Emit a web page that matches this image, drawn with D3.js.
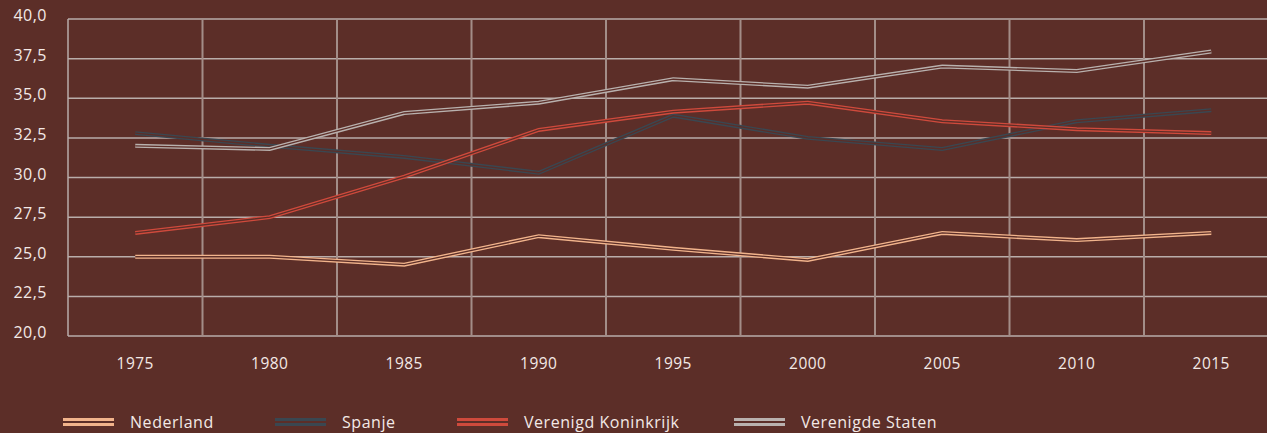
<!DOCTYPE html>
<html><head><meta charset="utf-8">
<script src="https://cdn.jsdelivr.net/npm/d3@7"></script>
<style>
html,body{margin:0;padding:0;background:#5c2e28;}
svg{display:block;font-family:"Open Sans",sans-serif;}
</style></head><body>
<svg id="c" width="1267" height="433"></svg>
<script>
const years = ["1975","1980","1985","1990","1995","2000","2005","2010","2015"];
const yTicks = [20,22.5,25,27.5,30,32.5,35,37.5,40];
const nederland = [25.0,25.0,24.5,26.3,25.5,24.8,26.5,26.05,26.5];
const spanje = [32.8,32.0,31.3,30.3,33.9,32.5,31.8,33.55,34.25];
const vk = [26.5,27.5,30.05,33.0,34.15,34.72,33.55,33.05,32.8];
const vs = [32.0,31.8,34.07,34.72,36.2,35.73,37.0,36.72,37.95];
const seriesNames = ["Nederland","Spanje","Verenigd Koninkrijk","Verenigde Staten"];
const seriesColors = ["#f2b48c","#3a4751","#cf4a3c","#b9b1ae"];
const seriesValues = [nederland,spanje,vk,vs];

const bg = "#5c2e28";
const txt = "#f3e9e6";
const svg = d3.select("#c");
const mLeft = 68, mTop = 19, mBottom = 336;
const band = 134.5;
const x = d3.scaleBand().domain(years).range([mLeft, mLeft + band*years.length]).padding(0);
const y = d3.scaleLinear().domain([20,40]).range([mBottom, mTop]);

// horizontal gridlines
svg.append("g").selectAll("line").data(yTicks).join("line")
  .attr("x1", mLeft).attr("x2", 1267)
  .attr("y1", d=>y(d)).attr("y2", d=>y(d))
  .attr("stroke","#b9adaa").attr("stroke-width",1.5);

// vertical band separators
svg.append("g").selectAll("line").data(years.slice(1)).join("line")
  .attr("x1", d=>x(d)).attr("x2", d=>x(d))
  .attr("y1", mTop).attr("y2", mBottom)
  .attr("stroke","#a38d88").attr("stroke-width",2);

// left axis line
svg.append("line").attr("x1",mLeft).attr("x2",mLeft).attr("y1",mTop).attr("y2",mBottom)
  .attr("stroke","#b9adaa").attr("stroke-width",1.5);

// y labels
const fmt = d => d3.format(".1f")(d).replace(".", ",");
svg.append("g").selectAll("text").data(yTicks).join("text")
  .attr("x", 47).attr("y", d=>y(d)+2)
  .attr("text-anchor","end").attr("fill",txt).attr("font-size",16).attr("letter-spacing",0.5)
  .text(fmt);

// x labels
svg.append("g").selectAll("text").data(years).join("text")
  .attr("x", d=>x(d)+x.bandwidth()/2).attr("y", 369)
  .attr("text-anchor","middle").attr("fill",txt).attr("font-size",15.5).attr("letter-spacing",0.5)
  .text(d=>d);

// lines (double-stroke)
const line = d3.line().x((d,i)=>x(years[i])+x.bandwidth()/2).y(d=>y(d));
const lg = svg.append("g");
seriesValues.forEach((vals,k)=>{
  lg.append("path").attr("d", line(vals)).attr("fill","none")
    .attr("stroke", seriesColors[k]).attr("stroke-width",4).attr("stroke-linejoin","miter");
  lg.append("path").attr("d", line(vals)).attr("fill","none")
    .attr("stroke", bg).attr("stroke-width",1.3).attr("stroke-linejoin","miter");
});

// legend
const legX = [63,275,457,734];
const leg = svg.append("g");
seriesNames.forEach((n,k)=>{
  const g = leg.append("g").attr("transform",`translate(${legX[k]},422)`);
  g.append("rect").attr("x",0).attr("y",-4).attr("width",51).attr("height",8).attr("fill",seriesColors[k]);
  g.append("rect").attr("x",0).attr("y",-1).attr("width",51).attr("height",2).attr("fill",bg);
  g.append("text").attr("x",67).attr("y",6).attr("fill",txt).attr("font-size",16).attr("letter-spacing",0.55).text(n);
});
</script>
</body></html>
